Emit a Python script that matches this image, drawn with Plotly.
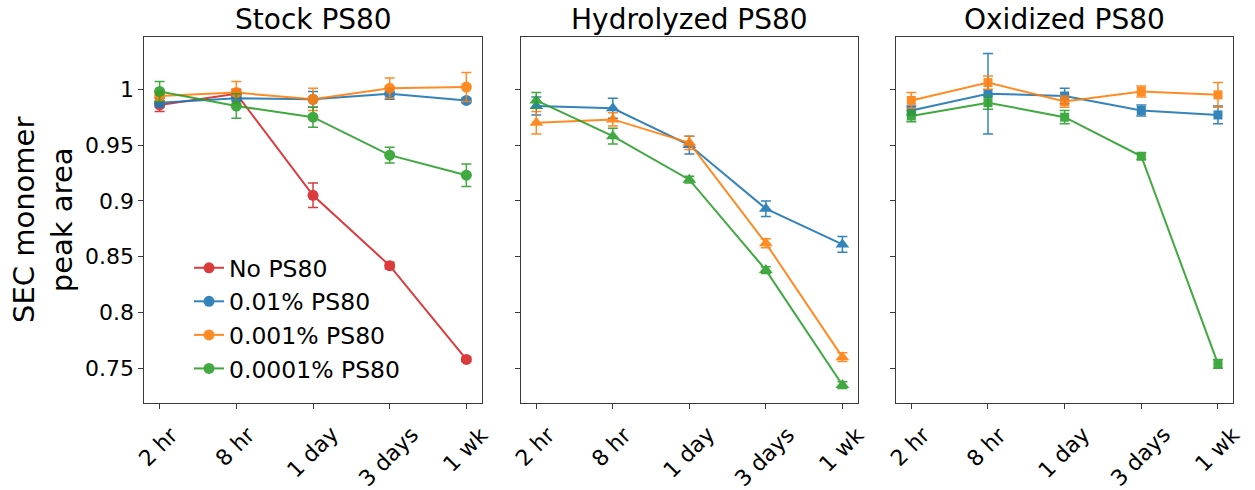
import plotly.graph_objects as go

# Time points and panel titles
categories = ["2 hr", "8 hr", "1 day", "3 days", "1 wk"]
panel_titles = ["Stock PS80", "Hydrolyzed PS80", "Oxidized PS80"]
series_names = ["No PS80", "0.01% PS80", "0.001% PS80", "0.0001% PS80"]

# Stock PS80 (mean, std)
stock_none = [0.986, 0.996, 0.905, 0.842, 0.758]
stock_none_err = [0.006, 0.004, 0.011, 0.003, 0.002]
stock_001 = [0.988, 0.992, 0.991, 0.996, 0.990]
stock_001_err = [0.004, 0.003, 0.007, 0.005, 0.002]
stock_0001 = [0.994, 0.997, 0.991, 1.001, 1.002]
stock_0001_err = [0.004, 0.010, 0.010, 0.009, 0.013]
stock_00001 = [0.998, 0.985, 0.975, 0.941, 0.923]
stock_00001_err = [0.009, 0.011, 0.009, 0.007, 0.010]

# Hydrolyzed PS80
hyd_001 = [0.985, 0.983, 0.950, 0.893, 0.861]
hyd_001_err = [0.008, 0.009, 0.008, 0.007, 0.007]
hyd_0001 = [0.970, 0.973, 0.952, 0.862, 0.760]
hyd_0001_err = [0.010, 0.006, 0.006, 0.004, 0.004]
hyd_00001 = [0.990, 0.958, 0.919, 0.838, 0.735]
hyd_00001_err = [0.007, 0.007, 0.003, 0.003, 0.003]

# Oxidized PS80
ox_001 = [0.981, 0.996, 0.994, 0.981, 0.977]
ox_001_err = [0.004, 0.036, 0.007, 0.005, 0.008]
ox_0001 = [0.990, 1.006, 0.989, 0.998, 0.995]
ox_0001_err = [0.007, 0.006, 0.005, 0.005, 0.011]
ox_00001 = [0.976, 0.988, 0.975, 0.940, 0.754]
ox_00001_err = [0.005, 0.006, 0.006, 0.003, 0.004]

y_tickvals = [0.75, 0.8, 0.85, 0.9, 0.95, 1.0]
y_ticktext = ["0.75", "0.8", "0.85", "0.9", "0.95", "1"]

colors = {
    "No PS80": "#d62728",
    "0.01% PS80": "#1f77b4",
    "0.001% PS80": "#ff7f0e",
    "0.0001% PS80": "#2ca02c",
}

panels = [
    ("circle", 11, [
        ("No PS80", stock_none, stock_none_err),
        ("0.01% PS80", stock_001, stock_001_err),
        ("0.001% PS80", stock_0001, stock_0001_err),
        ("0.0001% PS80", stock_00001, stock_00001_err),
    ]),
    ("triangle-up", 12, [
        ("0.01% PS80", hyd_001, hyd_001_err),
        ("0.001% PS80", hyd_0001, hyd_0001_err),
        ("0.0001% PS80", hyd_00001, hyd_00001_err),
    ]),
    ("square", 9, [
        ("0.01% PS80", ox_001, ox_001_err),
        ("0.001% PS80", ox_0001, ox_0001_err),
        ("0.0001% PS80", ox_00001, ox_00001_err),
    ]),
]

W, H = 1255, 490
x_domains = [[144.3 / W, 481.7 / W], [521 / W, 857.7 / W], [896 / W, 1233.3 / W]]
y_domain = [1 - 402.7 / H, 1 - 36.7 / H]
FONT = "DejaVu Sans"
AXIS_COLOR = "#3a3a3a"

fig = go.Figure()
layout = dict(
    width=W, height=H,
    margin=dict(l=0, r=0, t=0, b=0),
    paper_bgcolor="white", plot_bgcolor="white",
    font=dict(family=FONT, size=22, color="black"),
    showlegend=True,
    legend=dict(
        x=189 / W, y=1 - 246 / H, xanchor="left", yanchor="top",
        bgcolor="rgba(0,0,0,0)", font=dict(size=23.5, family=FONT),
        tracegroupgap=0,
    ),
)

annotations = []
for p, (symbol, msize, series) in enumerate(panels):
    xa = "x" if p == 0 else f"x{p + 1}"
    ya = "y" if p == 0 else f"y{p + 1}"
    for name, vals, errs in series:
        fig.add_trace(go.Scatter(
            x=categories, y=vals,
            error_y=dict(type="data", array=errs, visible=True,
                         color=colors[name], thickness=1.5, width=5),
            mode="lines+markers", name=name,
            line=dict(color=colors[name], width=2),
            marker=dict(symbol=symbol, size=msize, color=colors[name]),
            opacity=0.9,
            showlegend=(p == 0),
            xaxis=xa, yaxis=ya,
        ))
    axis_suffix = "" if p == 0 else str(p + 1)
    layout["xaxis" + axis_suffix] = dict(
        domain=x_domains[p], anchor=ya, type="category",
        categoryorder="array", categoryarray=categories,
        range=[-0.2, len(categories) - 1 + 0.2],
        showgrid=False, zeroline=False,
        showline=True, linecolor=AXIS_COLOR, linewidth=1, mirror=True,
        ticks="outside", ticklen=5, tickwidth=1, tickcolor=AXIS_COLOR,
        showticklabels=False,
    )
    layout["yaxis" + axis_suffix] = dict(
        domain=y_domain, anchor=xa,
        range=[0.7192, 1.0471],
        showgrid=False, zeroline=False,
        showline=True, linecolor=AXIS_COLOR, linewidth=1, mirror=True,
        ticks="outside", ticklen=5, tickwidth=1, tickcolor=AXIS_COLOR,
        tickvals=y_tickvals, ticktext=y_ticktext,
        showticklabels=(p == 0),
        tickfont=dict(size=22, family=FONT, color="black"),
    )
    # Panel title
    annotations.append(dict(
        text=panel_titles[p], xref=f"{xa} domain", x=0.5,
        yref="paper", y=1 - 19 / H, xanchor="center", yanchor="middle",
        showarrow=False, font=dict(size=28, family=FONT, color="black"),
    ))
    # Rotated time-point labels under each tick
    for i, cat in enumerate(categories):
        annotations.append(dict(
            text=cat, xref=xa, x=i, yref="paper", y=1 - 419 / H,
            xanchor="center", yanchor="top", textangle=-45, xshift=-1,
            showarrow=False, font=dict(size=22, family=FONT, color="black"),
        ))

# Y axis title
annotations.append(dict(
    text="SEC monomer<br>peak area", xref="paper", x=43 / W,
    yref="paper", y=1 - 220 / H, xanchor="center", yanchor="middle",
    textangle=-90, showarrow=False,
    font=dict(size=29, family=FONT, color="black"),
))

layout["annotations"] = annotations
fig.update_layout(**layout)
fig.write_html("out.html")
